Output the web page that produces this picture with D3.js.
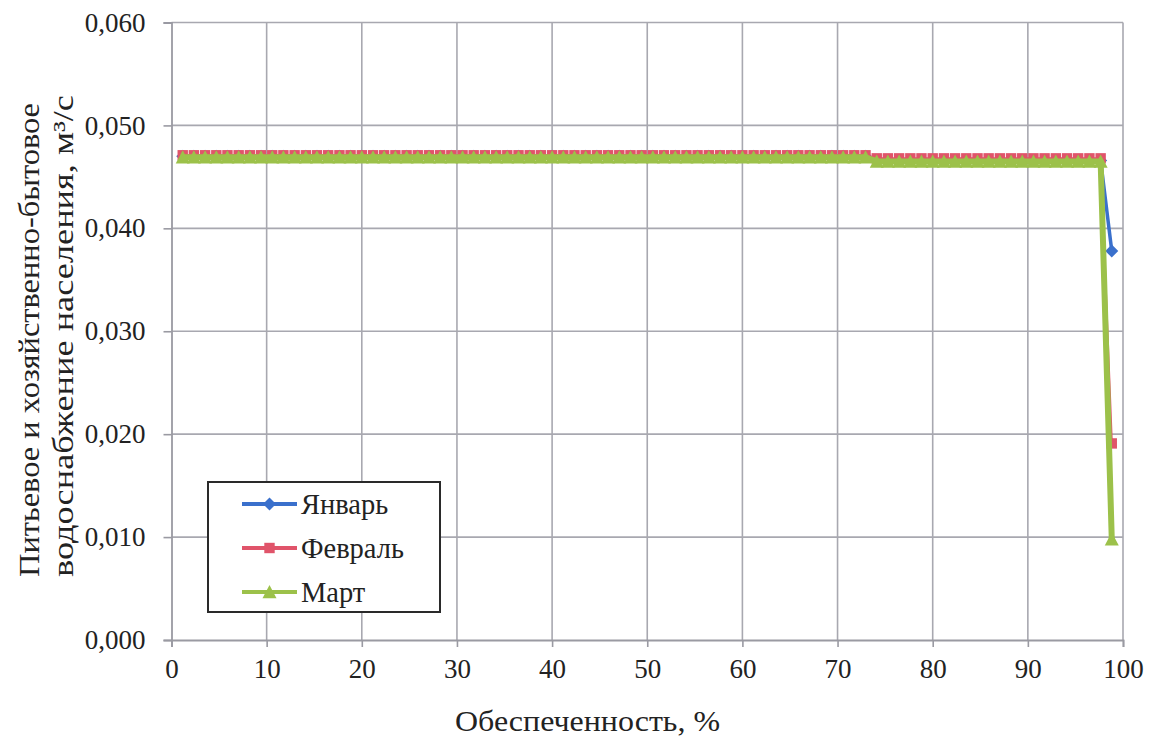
<!DOCTYPE html>
<html><head><meta charset="utf-8">
<script src="https://cdn.jsdelivr.net/npm/d3@7/dist/d3.min.js"></script>
<style>html,body{margin:0;padding:0;background:#fff;}svg{display:block;}</style>
</head><body>
<svg id="chart" width="1156" height="741"></svg>
<script>
// Обеспеченность, % (plotting positions)
const probability = [1.18,2.35,3.53,4.71,5.88,7.06,8.24,9.41,10.59,11.76,12.94,14.12,15.29,16.47,17.65,18.82,20.00,21.18,22.35,23.53,24.71,25.88,27.06,28.24,29.41,30.59,31.76,32.94,34.12,35.29,36.47,37.65,38.82,40.00,41.18,42.35,43.53,44.71,45.88,47.06,48.24,49.41,50.59,51.76,52.94,54.12,55.29,56.47,57.65,58.82,60.00,61.18,62.35,63.53,64.71,65.88,67.06,68.24,69.41,70.59,71.76,72.94,74.12,75.29,76.47,77.65,78.82,80.00,81.18,82.35,83.53,84.71,85.88,87.06,88.24,89.41,90.59,91.76,92.94,94.12,95.29,96.47,97.65,98.82];
const january = [0.0470,0.0470,0.0470,0.0470,0.0470,0.0470,0.0470,0.0470,0.0470,0.0470,0.0470,0.0470,0.0470,0.0470,0.0470,0.0470,0.0470,0.0470,0.0470,0.0470,0.0470,0.0470,0.0470,0.0470,0.0470,0.0470,0.0470,0.0470,0.0470,0.0470,0.0470,0.0470,0.0470,0.0470,0.0470,0.0470,0.0470,0.0470,0.0470,0.0470,0.0470,0.0470,0.0470,0.0470,0.0470,0.0470,0.0470,0.0470,0.0470,0.0470,0.0470,0.0470,0.0470,0.0470,0.0470,0.0470,0.0470,0.0470,0.0470,0.0470,0.0470,0.0470,0.0466,0.0466,0.0466,0.0466,0.0466,0.0466,0.0466,0.0466,0.0466,0.0466,0.0466,0.0466,0.0466,0.0466,0.0466,0.0466,0.0466,0.0466,0.0466,0.0466,0.0466,0.0378];
const february = [0.0471,0.0471,0.0471,0.0471,0.0471,0.0471,0.0471,0.0471,0.0471,0.0471,0.0471,0.0471,0.0471,0.0471,0.0471,0.0471,0.0471,0.0471,0.0471,0.0471,0.0471,0.0471,0.0471,0.0471,0.0471,0.0471,0.0471,0.0471,0.0471,0.0471,0.0471,0.0471,0.0471,0.0471,0.0471,0.0471,0.0471,0.0471,0.0471,0.0471,0.0471,0.0471,0.0471,0.0471,0.0471,0.0471,0.0471,0.0471,0.0471,0.0471,0.0471,0.0471,0.0471,0.0471,0.0471,0.0471,0.0471,0.0471,0.0471,0.0471,0.0471,0.0471,0.0468,0.0468,0.0468,0.0468,0.0468,0.0468,0.0468,0.0468,0.0468,0.0468,0.0468,0.0468,0.0468,0.0468,0.0468,0.0468,0.0468,0.0468,0.0468,0.0468,0.0468,0.0191];
const march = [0.0469,0.0469,0.0469,0.0469,0.0469,0.0469,0.0469,0.0469,0.0469,0.0469,0.0469,0.0469,0.0469,0.0469,0.0469,0.0469,0.0469,0.0469,0.0469,0.0469,0.0469,0.0469,0.0469,0.0469,0.0469,0.0469,0.0469,0.0469,0.0469,0.0469,0.0469,0.0469,0.0469,0.0469,0.0469,0.0469,0.0469,0.0469,0.0469,0.0469,0.0469,0.0469,0.0469,0.0469,0.0469,0.0469,0.0469,0.0469,0.0469,0.0469,0.0469,0.0469,0.0469,0.0469,0.0469,0.0469,0.0469,0.0469,0.0469,0.0469,0.0469,0.0469,0.0465,0.0465,0.0465,0.0465,0.0465,0.0465,0.0465,0.0465,0.0465,0.0465,0.0465,0.0465,0.0465,0.0465,0.0465,0.0465,0.0465,0.0465,0.0465,0.0465,0.0465,0.0098];
const seriesNames = ["Январь", "Февраль", "Март"];
const xTicks = [0,10,20,30,40,50,60,70,80,90,100];
const yTicks = [0,0.01,0.02,0.03,0.04,0.05,0.06];
const xTitle = "Обеспеченность, %";
const yTitleLines = ["Питьевое и хозяйственно-бытовое", "водоснабжение населения, м³/с"];

(function () {
const FAM = 'Tinos, "Liberation Serif", serif';
const svg = d3.select("#chart");
const pLeft = 171.5, pTop = 22.5, pRight = 1123, pBottom = 640;
const x = d3.scaleLinear().domain([0,100]).range([pLeft,pRight]);
const y = d3.scaleLinear().domain([0,0.06]).range([pBottom,pTop]);
const gridColor = "#a8a8b0";
const fmt = v => d3.format(".3f")(v).replace(".", ",");

svg.append("rect").attr("width",1156).attr("height",741).attr("fill","#fff");

// gridlines
const grid = svg.append("g");
grid.selectAll("line.h").data(yTicks.filter(d=>d>0)).join("line")
  .attr("x1", pLeft).attr("x2", pRight).attr("y1", d=>y(d)).attr("y2", d=>y(d))
  .attr("stroke", gridColor).attr("stroke-width", 1.6);
grid.selectAll("line.v").data(xTicks.filter(d=>d>0)).join("line")
  .attr("x1", d=>x(d)).attr("x2", d=>x(d)).attr("y1", pTop).attr("y2", pBottom)
  .attr("stroke", gridColor).attr("stroke-width", 1.6);

// axes
const yAxis = svg.append("g").attr("transform", `translate(${pLeft},0)`)
  .call(d3.axisLeft(y).tickValues(yTicks).tickSize(8).tickPadding(18).tickFormat(fmt));
const xAxis = svg.append("g").attr("transform", `translate(0,${pBottom})`)
  .call(d3.axisBottom(x).tickValues(xTicks).tickSize(7).tickPadding(12).tickFormat(d3.format("d")));
[yAxis, xAxis].forEach(a => {
  a.attr("font-family", null).attr("font-size", null);
  a.select(".domain").attr("stroke", "#9a9aa2").attr("stroke-width", 1.8);
  a.selectAll(".tick line").attr("stroke", "#9a9aa2").attr("stroke-width", 1.6);
  a.selectAll("text").style("font-family", FAM).style("font-size", "27px").attr("fill", "#222");
});

// series
const colors = ["#3a70cc", "#e0546a", "#9cc14a"];
const widths = [3.5, 2.2, 6];
const seriesData = [january, february, march];
const line = d3.line().x((d,i)=>x(probability[i])).y(d=>y(d));
function marker(g, k, cx, cy) {
  if (k === 0) {
    const s = 6.5;
    g.append("path").attr("d", `M${cx},${cy-s}L${cx+s},${cy}L${cx},${cy+s}L${cx-s},${cy}Z`).attr("fill", colors[k]);
  } else if (k === 1) {
    const s = 5.2;
    g.append("rect").attr("x", cx-s).attr("y", cy-s).attr("width", 2*s).attr("height", 2*s).attr("fill", colors[k]);
  } else {
    const s = 7;
    g.append("path").attr("d", `M${cx},${cy-s}L${cx+s},${cy+s*0.9}L${cx-s},${cy+s*0.9}Z`).attr("fill", colors[k]);
  }
}
seriesData.forEach((vals, k) => {
  const g = svg.append("g");
  g.append("path").datum(vals).attr("d", line).attr("fill","none")
    .attr("stroke", colors[k]).attr("stroke-width", widths[k]).attr("stroke-linejoin","round");
  vals.forEach((v,i) => marker(g, k, x(probability[i]), y(v)));
});

// legend
const lg = svg.append("g");
lg.append("rect").attr("x", 208).attr("y", 482).attr("width", 232).attr("height", 130)
  .attr("fill", "#fff").attr("stroke", "#2a2a2a").attr("stroke-width", 2);
const legY = [504, 548, 592];
seriesNames.forEach((name, k) => {
  lg.append("line").attr("x1", 242).attr("x2", 297).attr("y1", legY[k]).attr("y2", legY[k])
    .attr("stroke", colors[k]).attr("stroke-width", 4);
  marker(lg, k, 269.5, legY[k]);
  lg.append("text").attr("x", 301).attr("y", legY[k]).attr("dy", "0.35em")
    .style("font-family", FAM).style("font-size", "28.5px").attr("fill", "#222").text(name);
});

// titles
svg.append("text").attr("x", 587.5).attr("y", 731)
  .attr("text-anchor", "middle").style("font-family", FAM).style("font-size", "29px")
  .attr("textLength", 265).attr("lengthAdjust", "spacingAndGlyphs")
  .attr("fill", "#222").text(xTitle);
const yt1 = svg.append("text").attr("transform", "translate(29,340) rotate(-90)")
  .attr("text-anchor", "middle").attr("dy", "0.35em").style("font-family", FAM).style("font-size", "29px")
  .attr("textLength", 474).attr("lengthAdjust", "spacingAndGlyphs")
  .attr("fill", "#222").text(yTitleLines[0]);
const yt2 = svg.append("text").attr("transform", "translate(63,336) rotate(-90)")
  .attr("text-anchor", "middle").attr("dy", "0.35em").style("font-family", FAM).style("font-size", "29px")
  .attr("textLength", 482).attr("lengthAdjust", "spacingAndGlyphs")
  .attr("fill", "#222").text(yTitleLines[1]);
})();
</script>
</body></html>
